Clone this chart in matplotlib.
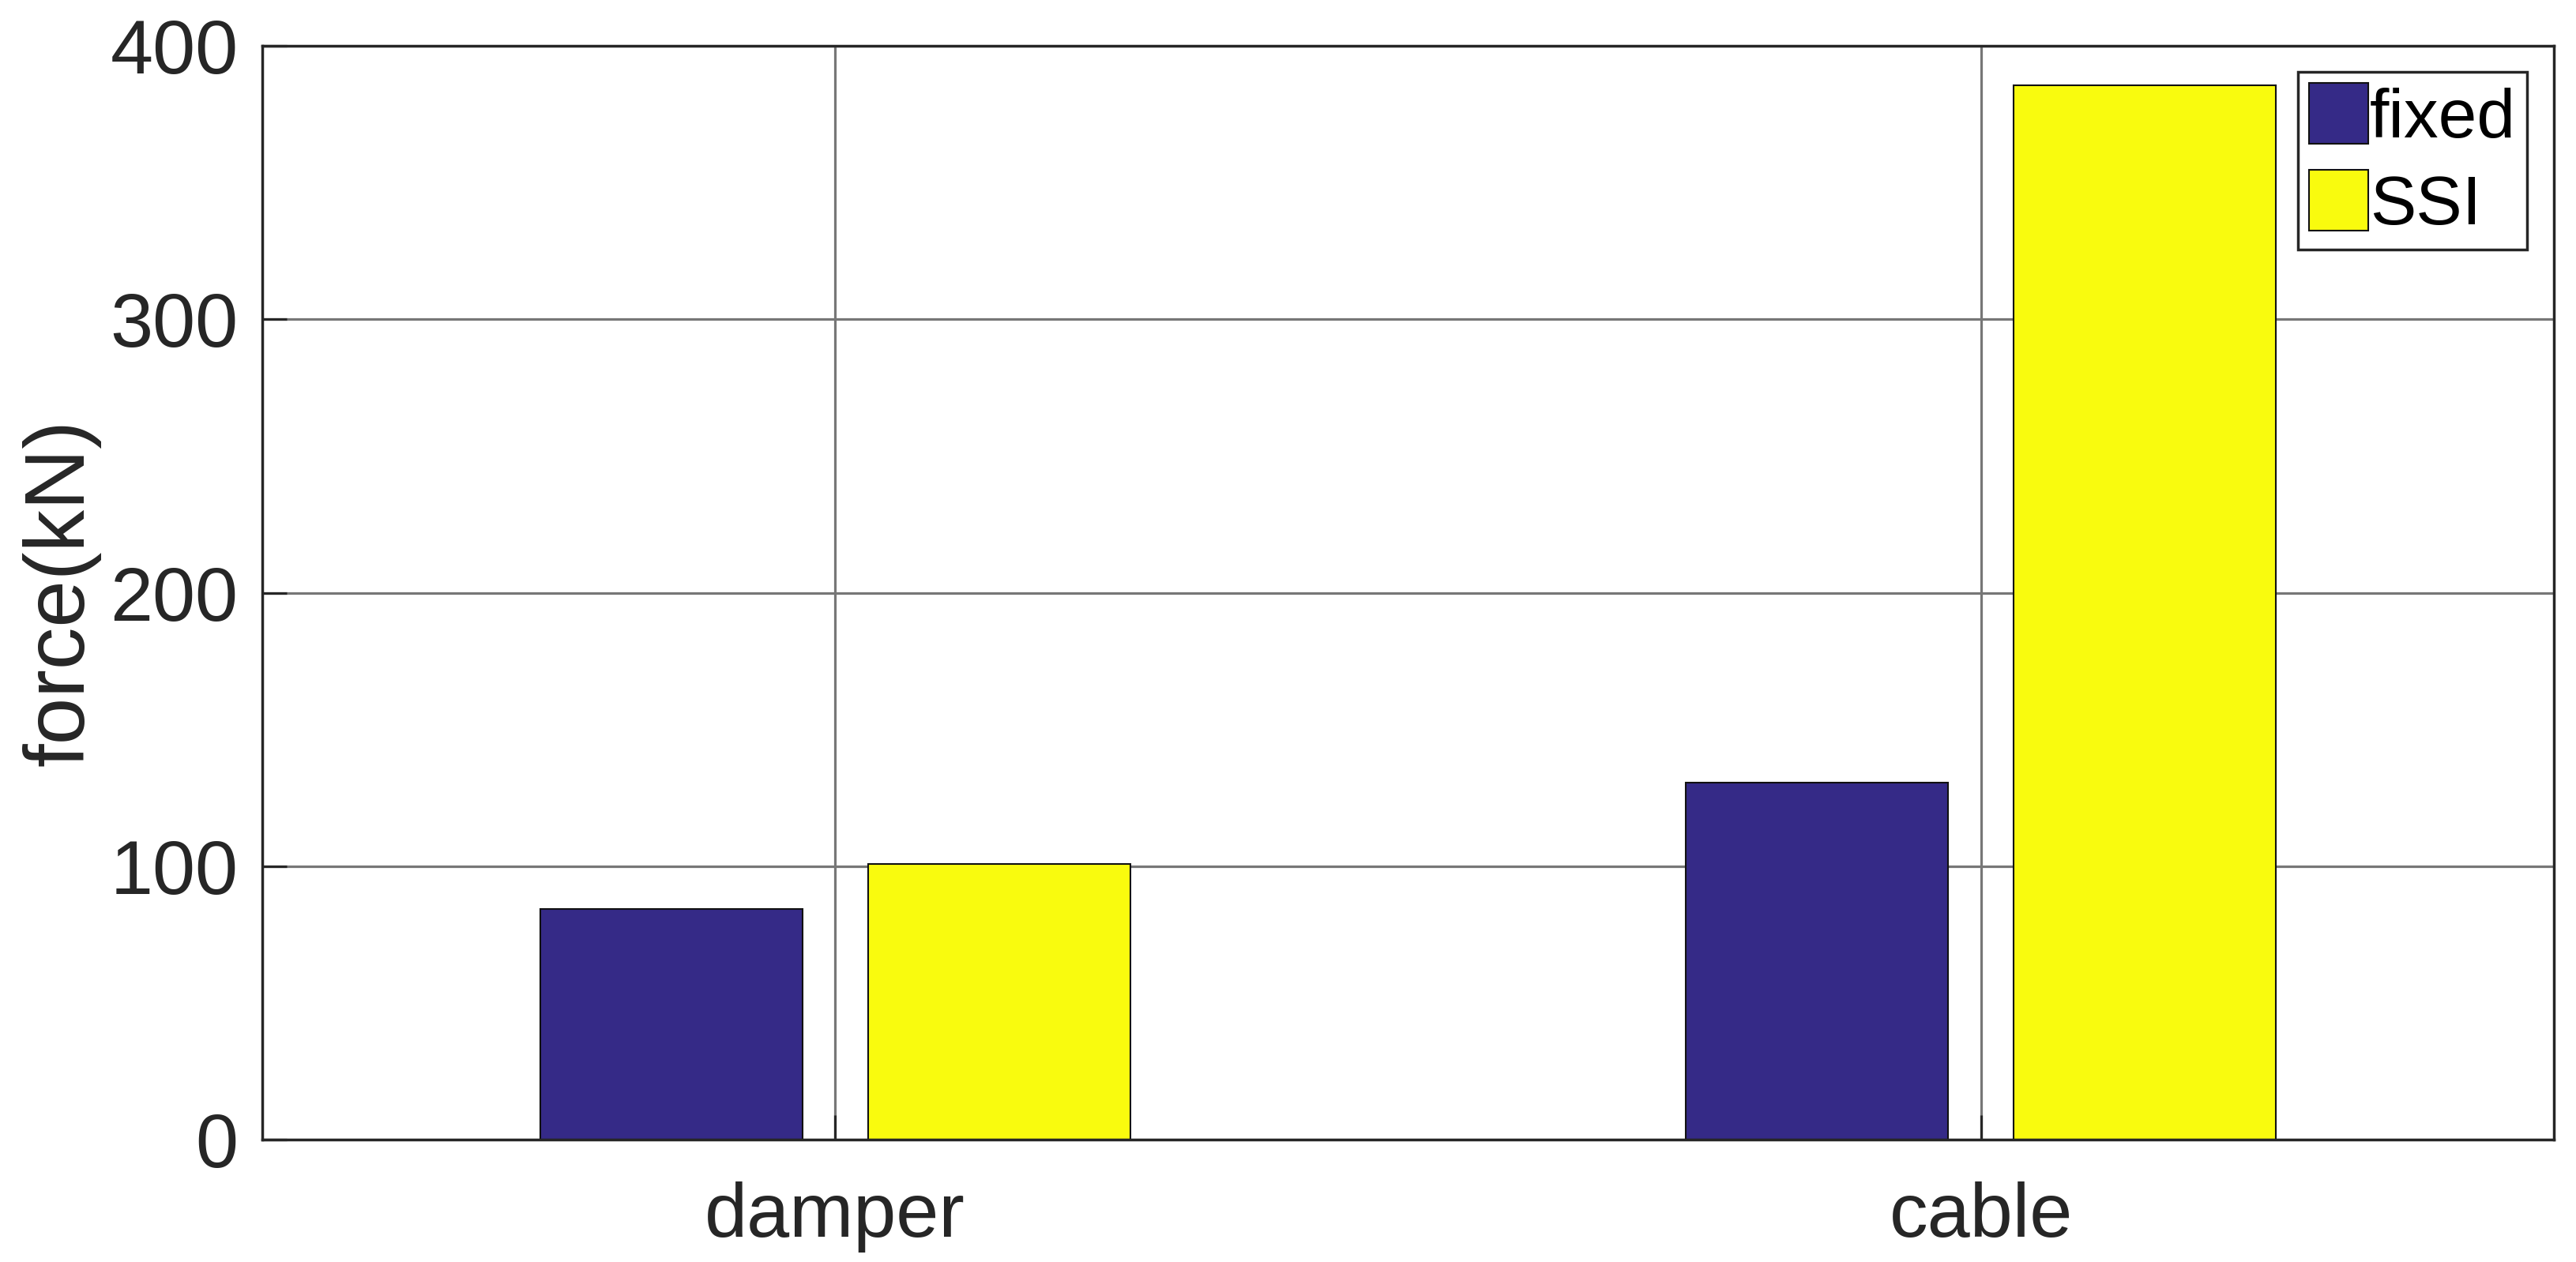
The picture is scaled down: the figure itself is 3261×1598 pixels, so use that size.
import numpy as np
import matplotlib
matplotlib.use("Agg")
import matplotlib.pyplot as plt

# Data
categories = ["damper", "cable"]
fixed = [84.3, 130.5]
ssi = [100.8, 385.5]
series_names = ["fixed", "SSI"]
yticks = [0, 100, 200, 300, 400]

plt.rcParams["font.family"] = ["Liberation Sans", "DejaVu Sans"]

fig = plt.figure(figsize=(32.61, 15.98), dpi=100)
ax = fig.add_axes([0.1018, 0.0970, 0.8896, 0.8667])

x = np.arange(1, len(categories) + 1)
width = 0.229
off = 0.143

ax.bar(x - off, fixed, width, color="#352A87", edgecolor="#111111", linewidth=1.5,
       label=series_names[0], zorder=3)
ax.bar(x + off, ssi, width, color="#F9FB0E", edgecolor="#111111", linewidth=1.5,
       label=series_names[1], zorder=3)

ax.set_xlim(0.5, 2.5)
ax.set_ylim(0, 400)
ax.set_xticks(x)
ax.set_xticklabels(categories)
ax.set_yticks(yticks)

ax.grid(True, color="#777777", linewidth=2.3, zorder=0)
ax.set_axisbelow(True)

for s in ax.spines.values():
    s.set_linewidth(2.5)
    s.set_color("#262626")
    s.set_zorder(4)

ax.tick_params(axis="both", direction="in", length=22, width=2.3, colors="#262626",
               labelsize=70, labelcolor="#262626", top=False, right=False)
ax.tick_params(axis="x", pad=38)
ax.tick_params(axis="y", pad=22)

ax.set_ylabel("force(kN)", fontsize=77, color="#262626")
ax.yaxis.set_label_coords(-0.0705, 0.5)

leg = ax.legend(loc="upper right", bbox_to_anchor=(0.9883, 0.9762), borderaxespad=0,
                fontsize=63, fancybox=False, shadow=False, framealpha=1,
                edgecolor="#262626", handlelength=0.86, handleheight=0.98,
                handletextpad=0.02, borderpad=0.16, labelspacing=0.27)
leg.get_frame().set_linewidth(2.5)

fig.savefig("out.png", dpi=100)
